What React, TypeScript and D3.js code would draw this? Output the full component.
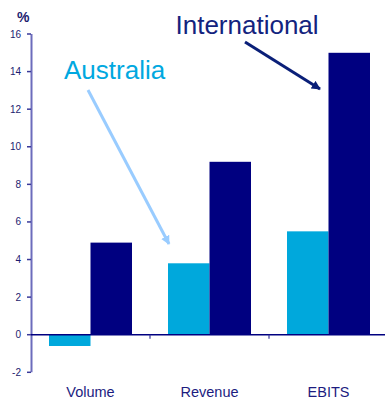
import React from "react";
import * as d3 from "d3";

const categories = ["Volume", "Revenue", "EBITS"];
const seriesNames = ["Australia", "International"];
const australia = [-0.6, 3.8, 5.5];
const international = [4.9, 9.2, 15.0];
const yTicks = [-2, 0, 2, 4, 6, 8, 10, 12, 14, 16];

const colors = { Australia: "#00a8dc", International: "#000080" };
const FONT = "Arial, 'Liberation Sans', sans-serif";

export default function App() {
  const W = 385, H = 403;
  const y = d3.scaleLinear().domain([-2, 16]).range([372.3, 34]);
  const x0 = d3.scaleBand<string>().domain(categories).range([31, 388]).padding(0);
  const bw = x0.bandwidth();
  const x1 = d3.scaleBand<string>().domain(seriesNames).range([18, bw - 18]).padding(0);
  const values: Record<string, number[]> = { Australia: australia, International: international };

  return (
    <svg width={W} height={H} style={{ position: "absolute", left: 0, top: 0 }}>
      <defs>
        <marker id="ahA" viewBox="0 0 10 10" refX="9" refY="5" markerWidth="3" markerHeight="3.2" orient="auto" markerUnits="strokeWidth">
          <path d="M0,0 L10,5 L0,10 Z" fill="#99ccff" />
        </marker>
        <marker id="ahI" viewBox="0 0 10 10" refX="9" refY="5" markerWidth="3" markerHeight="3.2" orient="auto" markerUnits="strokeWidth">
          <path d="M0,0 L10,5 L0,10 Z" fill="#0a1f78" />
        </marker>
      </defs>
      <rect width={W} height={H} fill="#fff" />
      {/* bars */}
      {seriesNames.map((s) =>
        categories.map((c, i) => {
          const v = values[s][i];
          const x = (x0(c) as number) + (x1(s) as number);
          return (
            <rect key={s + c} x={x} y={y(Math.max(0, v))} width={x1.bandwidth()}
              height={Math.abs(y(v) - y(0))} fill={colors[s as keyof typeof colors]} />
          );
        })
      )}
      {/* y axis */}
      <line x1={31.5} x2={31.5} y1={y(16)} y2={y(-2)} stroke="#6c6cbc" strokeWidth={2} />
      {yTicks.map((t) => (
        <g key={t}>
          <line x1={27} x2={31} y1={y(t)} y2={y(t)} stroke="#3a3a9a" strokeWidth={1.5} />
          <text x={21} y={y(t)} dy="0.35em" textAnchor="end" fontSize={10} fontFamily={FONT} fill="#1c1c70">{t}</text>
        </g>
      ))}
      <text x={17} y={22} fontSize={14} fontWeight="bold" fontFamily={FONT} fill="#1c1c70">%</text>
      {/* x axis at zero */}
      <line x1={31} x2={W} y1={y(0)} y2={y(0)} stroke="#000080" strokeWidth={1.5} />
      {categories.slice(1).map((c) => (
        <line key={c} x1={(x0(c) as number)} x2={(x0(c) as number)} y1={y(0)} y2={y(0) + 4} stroke="#3a3a9a" strokeWidth={1.2} />
      ))}
      {categories.map((c) => (
        <text key={c} x={(x0(c) as number) + bw / 2} y={397} textAnchor="middle" fontSize={14.5} fontFamily={FONT} fill="#1c1c80">{c}</text>
      ))}
      {/* annotations */}
      <text x={64} y={79.3} fontSize={26} fontFamily={FONT} fill="#00a8e0">Australia</text>
      <text x={175.5} y={34} fontSize={26} fontFamily={FONT} fill="#13237e">International</text>
      <line x1={88} x2={169} y1={90} y2={244} stroke="#99ccff" strokeWidth={3} markerEnd="url(#ahA)" />
      <line x1={245} x2={320} y1={42} y2={89} stroke="#0a1f78" strokeWidth={3} markerEnd="url(#ahI)" />
    </svg>
  );
}
